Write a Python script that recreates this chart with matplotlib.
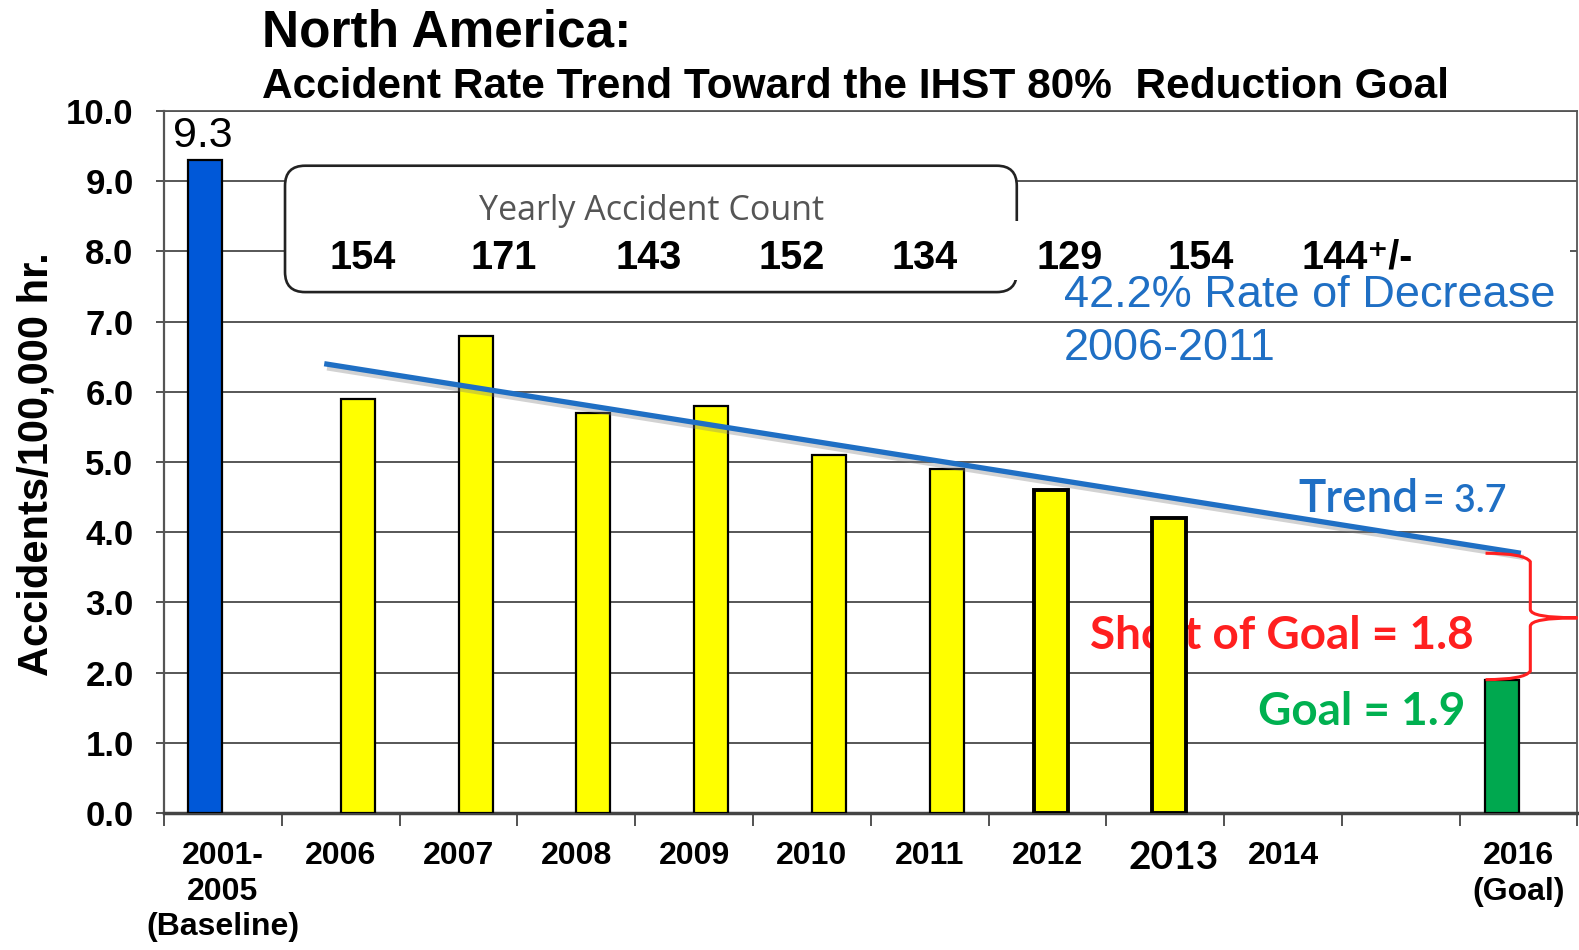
#!/usr/bin/env python3
# North America accident rate trend toward the IHST 80% reduction goal
import numpy as np
import matplotlib.pyplot as plt
import matplotlib.patheffects as pe
from matplotlib.patches import FancyBboxPatch, Rectangle, PathPatch
from matplotlib.path import Path
import matplotlib.transforms as mtransforms

plt.rcParams['font.family'] = ['Liberation Sans', 'DejaVu Sans']

# x-axis slots (2015 has no label)
axis_years = ['2001-2005', '2006', '2007', '2008', '2009', '2010',
              '2011', '2012', '2013', '2014', '2015', '2016']
tick_labels = ['2001-\n2005\n(Baseline)', '2006', '2007', '2008', '2009', '2010',
               '2011', '2012', '2013', '2014', '', '2016\n(Goal)']

# accident rates per 100,000 hr
bar_years = ['2001-2005', '2006', '2007', '2008', '2009', '2010',
             '2011', '2012', '2013', '2016']
bar_rates = [9.3, 5.9, 6.8, 5.7, 5.8, 5.1, 4.9, 4.6, 4.2, 1.9]

# yearly accident counts
count_years = ['2006', '2007', '2008', '2009', '2010', '2011', '2012', '2013']
counts = ['154', '171', '143', '152', '134', '129', '154', '144\u207a/-']

# trend line 2006 -> 2016 and goal
trend_years = ['2006', '2016']
trend_rates = [6.4, 3.7]
goal_rate = 1.9
baseline_rate = 9.3

BLUE = '#1f6fc4'
RED = '#ff1f1f'
bar_colors = {'2001-2005': '#0058d8', '2016': '#00a84f'}
bar_shift = {'2001-2005': -0.15, '2012': 0.03, '2013': 0.035, '2016': -0.14}
count_x = [1.19, 2.38, 3.61, 4.83, 5.96, 7.19, 8.30, 9.16]

fig = plt.figure(figsize=(15.79, 9.5), dpi=100)
ax = fig.add_axes([0.1039, 0.1442, 0.8951, 0.7390])

idx = {y: i for i, y in enumerate(axis_years)}

# bars
for year, rate in zip(bar_years, bar_rates):
    x = idx[year] + bar_shift.get(year, 0.145)
    lw = 2.8 if year in ('2012', '2013') else 1.6
    ax.bar(x, rate, width=0.29, color=bar_colors.get(year, '#ffff00'),
           edgecolor='black', linewidth=lw, zorder=3)

# value label on baseline bar
ax.annotate(f'{baseline_rate:.1f}', (idx['2001-2005'] - 0.17, baseline_rate),
            xytext=(0, 3), textcoords='offset points', ha='center', va='bottom',
            fontsize=31, zorder=5)

# trend line
tx = [idx[trend_years[0]] - 0.14, idx[trend_years[1]] + 0.02]
ax.plot(tx, trend_rates, color=BLUE, lw=3.8, solid_capstyle='butt', zorder=4,
        path_effects=[pe.SimpleLineShadow(offset=(2, -3), shadow_color='gray', alpha=0.35),
                      pe.Normal()])

# brace between trend end and goal
x0, xb, xtip = 10.72, 11.10, 11.5
ytop, ybot = trend_rates[-1], goal_rate
ymid = (ytop + ybot) / 2 - 0.02
r = 0.12
verts = [(x0, ytop), (xb - 0.05, ytop), (xb, ytop - r),
         (xb, ymid + r), (xb, ymid), (xtip, ymid),
         (xb, ymid), (xb, ymid - r),
         (xb, ybot + r), (xb - 0.05, ybot), (x0, ybot)]
codes = [Path.MOVETO, Path.CURVE3, Path.CURVE3,
         Path.LINETO, Path.CURVE3, Path.CURVE3,
         Path.CURVE3, Path.CURVE3,
         Path.LINETO, Path.CURVE3, Path.CURVE3]
ax.add_patch(PathPatch(Path(verts, codes), fill=False, edgecolor=RED,
                       lw=2.2, zorder=4, clip_on=False))

# yearly accident count box
ax.add_patch(FancyBboxPatch((0.527, 7.42), 6.74 - 0.527, 9.22 - 7.42,
                            boxstyle='round,pad=0,rounding_size=0.17',
                            mutation_aspect=1.68, facecolor='white',
                            edgecolor='#222222', lw=1.9, zorder=2))
ax.add_patch(Rectangle((6.66, 7.59), 11.44 - 6.66, 8.43 - 7.59,
                       facecolor='white', edgecolor='none', zorder=2.1))
ax.text(3.64, 8.58, 'Yearly Accident Count', ha='center', va='center',
        fontsize=24.5, color='#555555', family=['Open Sans', 'DejaVu Sans'], zorder=2.2)
for i, (x, c) in enumerate(zip(count_x, counts)):
    ha = 'left' if i == len(counts) - 1 else 'center'
    ax.text(x, 7.91, c, ha=ha, va='center', fontsize=28.5,
            fontweight='bold', zorder=2.3)

# annotations
ax.text(7.14, 7.37, '42.2% Rate of Decrease', color=BLUE, fontsize=32.5,
        ha='left', va='center', zorder=2.2)
ax.text(7.14, 6.62, '2006-2011', color=BLUE, fontsize=32.5,
        ha='left', va='center', zorder=2.2)
ax.text(9.13, 4.29, 'Trend', color=BLUE, fontsize=33, ha='left', va='baseline',
        family=['Lato', 'DejaVu Sans'], fontweight='semibold', zorder=2.2)
ax.text(10.19, 4.29, f'= {trend_rates[-1]:.1f}', color=BLUE, fontsize=27, ha='left',
        va='baseline', family=['Lato', 'DejaVu Sans'], fontweight='semibold', zorder=2.2)
ax.text(7.36, 2.52, f'Short of Goal = {trend_rates[-1] - goal_rate:.1f}', color=RED,
        fontsize=33, ha='left', va='center', family=['Lato', 'DejaVu Sans'],
        fontweight='bold', zorder=2.2)
ax.text(8.79, 1.44, f'Goal = {goal_rate:.1f}', color='#00b050', fontsize=33,
        ha='left', va='center', family=['Lato', 'DejaVu Sans'], fontweight='bold',
        zorder=2.2)

# axes styling
ax.set_xlim(-0.5, 11.5)
ax.set_ylim(0, 10)
ax.set_yticks(np.arange(0, 10.1, 1))
ax.set_yticklabels([f'{v:.1f}' for v in np.arange(0, 10.1, 1)],
                   fontsize=25, fontweight='bold')
# 2013 is drawn separately in a larger font
shown_labels = [t if y != '2013' else '' for t, y in zip(tick_labels, axis_years)]
ax.set_xticks(np.arange(len(axis_years)))
ax.set_xticklabels(shown_labels, fontsize=23, fontweight='bold', linespacing=1.25)
ax.set_xticks(np.arange(-0.5, len(axis_years), 1), minor=True)
ax.tick_params(axis='x', which='major', length=0, pad=20)
ax.tick_params(axis='x', which='minor', length=9, width=1.3, color='#444444')
ax.tick_params(axis='y', length=6, width=1.3, color='#444444', pad=16)

trans = mtransforms.blended_transform_factory(ax.transData, ax.transAxes)
ax.text(idx['2013'] + 0.07, -0.038, tick_labels[idx['2013']], transform=trans,
        ha='center', va='top', fontsize=28, fontweight='bold',
        family=['Lato', 'DejaVu Sans'])

ax.yaxis.grid(True, color='#3a3a3a', lw=1.2, zorder=0)
ax.set_axisbelow(True)
for s in ['top', 'right']:
    ax.spines[s].set_color('#555555')
    ax.spines[s].set_linewidth(1.3)
ax.spines['left'].set_color('#555555')
ax.spines['left'].set_linewidth(1.6)
ax.spines['bottom'].set_color('#444444')
ax.spines['bottom'].set_linewidth(2.5)

ax.set_ylabel('Accidents/100,000 hr.', fontsize=30, fontweight='bold')
ax.yaxis.label.set_verticalalignment('center')
ax.yaxis.set_label_coords(-0.090, 0.497)

fig.text(0.166, 0.965, 'North America:', fontsize=37, fontweight='bold',
         ha='left', va='center')
fig.text(0.166, 0.908, 'Accident Rate Trend Toward the IHST 80%  Reduction Goal',
         fontsize=30.5, fontweight='bold', ha='left', va='center')

fig.savefig('out.png', dpi=100)
